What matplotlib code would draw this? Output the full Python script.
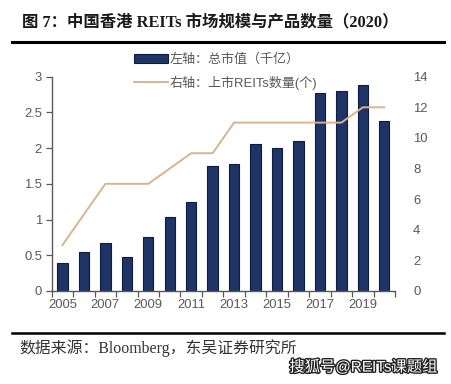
import matplotlib
matplotlib.use('Agg')
import matplotlib.pyplot as plt
import matplotlib.patheffects as pe
from matplotlib.patches import Patch
from matplotlib.lines import Line2D
from matplotlib.ticker import FuncFormatter
import numpy as np

# data
years = list(range(2005, 2021))
market_cap = [0.39, 0.54, 0.67, 0.47, 0.75, 1.04, 1.25, 1.75, 1.78, 2.06, 2.00, 2.10, 2.77, 2.80, 2.89, 2.38]
reit_count = [3, 5, 7, 7, 7, 8, 9, 9, 11, 11, 11, 11, 11, 11, 12, 12]
tick_years = [2005, 2007, 2009, 2011, 2013, 2015, 2017, 2019]

title_txt = '图 7：中国香港 REITs 市场规模与产品数量（2020）'
bar_label = '左轴：总市值（千亿）'
line_label = '右轴：上市REITs数量(个)'
source_txt = '数据来源：Bloomberg，东吴证券研究所'
mark_txt = '搜狐号@REITs课题组'

navy = '#1f3466'
navy_edge = '#0e1b3d'
tan = '#d8b48e'
grey = '#595959'

sans = ['Liberation Sans', 'Noto Sans CJK SC', 'DejaVu Sans']
serif = ['Liberation Serif', 'Noto Sans CJK SC', 'DejaVu Sans']
plt.rcParams['font.family'] = sans

fig = plt.figure(figsize=(4.52, 3.84), dpi=100)
ax = fig.add_axes([0.1144, 0.2422, 0.874 - 0.1144, 0.8003 - 0.2422])
ax2 = ax.twinx()

x = np.arange(len(years))
ax.bar(x, market_cap, width=0.48, color=navy, edgecolor=navy_edge, linewidth=0.8, zorder=2)
ax2.plot(x, reit_count, color=tan, linewidth=1.4)

ax.set_xlim(-0.5, len(years) - 0.5)
ax.set_ylim(0, 3)
ax2.set_ylim(0, 14)

ax.set_yticks(np.arange(0, 3.01, 0.5))
ax.yaxis.set_major_formatter(FuncFormatter(lambda v, p: f'{v:g}'))
ax2.set_yticks(range(0, 15, 2))

# x ticks at category boundaries, labels on every other year
ax.set_xticks(np.arange(-0.5, len(years), 1.0))
ax.set_xticklabels([])
ax.set_xticks([years.index(y) for y in tick_years], minor=True)
ax.set_xticklabels([str(y) for y in tick_years], minor=True)
ax.tick_params(axis='x', which='major', direction='out', length=4, color=grey, width=0.9)
ax.tick_params(axis='x', which='minor', length=0, pad=6, labelsize=9.4, labelcolor=grey)
ax.tick_params(axis='y', direction='out', length=4, color=grey, width=0.9, labelsize=9.4, labelcolor=grey, pad=3)
ax2.tick_params(axis='y', length=0, pad=13, labelsize=9.4, labelcolor=grey)

for a in (ax, ax2):
    a.spines['top'].set_visible(False)
    a.spines['right'].set_visible(False)
ax2.spines['left'].set_visible(False)
ax2.spines['bottom'].set_visible(False)
ax.spines['left'].set_color(grey)
ax.spines['bottom'].set_color(grey)
ax.spines['left'].set_linewidth(1.0)
ax.spines['bottom'].set_linewidth(1.0)

handles = [Patch(facecolor=navy, edgecolor=navy_edge, linewidth=0.8),
           Line2D([], [], color=tan, linewidth=1.4)]
fig.legend(handles, [bar_label, line_label], loc='upper left',
           bbox_to_anchor=(0.285, 0.875), frameon=False, handlelength=2.6,
           handletextpad=0.15, labelspacing=0.75, borderaxespad=0,
           prop={'family': sans, 'size': 9.4}, labelcolor=grey)

# title, rules and source
fig.text(0.048, 0.943, title_txt, fontsize=11.8, fontweight='bold', color='#1a1a1a',
         family=serif, va='center', ha='left')
fig.add_artist(Line2D([0.027, 0.982], [0.89, 0.89], color='black', linewidth=2.2))
fig.add_artist(Line2D([0.027, 0.982], [0.134, 0.134], color='black', linewidth=1.8))
fig.text(0.044, 0.094, source_txt, fontsize=11.4, color='#333333', family=serif,
         va='center', ha='left')
fig.text(0.967, 0.044, mark_txt, fontsize=11, color='white', family=sans,
         va='center', ha='right',
         path_effects=[pe.withStroke(linewidth=2, foreground='#222222')])

fig.savefig('out.png', dpi=100)
